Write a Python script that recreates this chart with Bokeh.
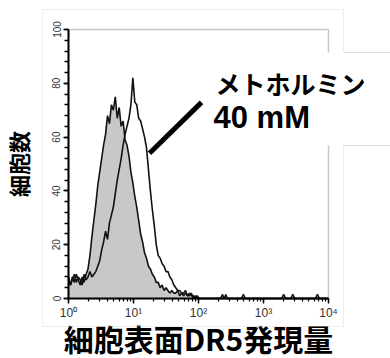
from bokeh.plotting import figure
from bokeh.models import SingleIntervalTicker, LogTicker, BoxAnnotation, Label, Range1d
from bokeh.embed import file_html
from bokeh.resources import INLINE

# log10 of fluorescence intensity (channel positions) and event counts
ctrl_exp = [0.00, 0.03, 0.06, 0.09, 0.12, 0.15, 0.18, 0.21, 0.24, 0.27,
            0.30, 0.33, 0.36, 0.39, 0.42, 0.45, 0.48, 0.51, 0.54, 0.57,
            0.60, 0.63, 0.66, 0.69, 0.72, 0.75, 0.78, 0.81, 0.84, 0.87,
            0.90, 0.93, 0.96, 0.99, 1.02, 1.05, 1.08, 1.11, 1.14, 1.17,
            1.20, 1.23, 1.26, 1.29, 1.32, 1.35, 1.38, 1.41, 1.44, 1.47,
            1.50, 1.53, 1.56, 1.59, 1.62, 1.65, 1.68, 1.71, 1.74, 1.77,
            1.80, 1.83, 1.86, 1.89, 1.92, 1.95, 1.98, 2.01, 4.00]
ctrl_count = [6, 5, 8, 6, 9, 7, 5, 8, 6, 9,
              11, 16, 23, 29, 35, 42, 47, 52, 57, 61,
              68, 65, 72, 70, 75, 67, 71, 64, 66, 59,
              57, 53, 47, 43, 38, 34, 29, 24, 21, 17,
              15, 12, 11, 9, 8, 6, 6, 4, 5, 3,
              4, 3, 2, 3, 2, 2, 3, 1, 2, 1,
              2, 1, 1, 2, 0, 1, 0, 0, 0]

met_exp = [0.00, 0.03, 0.06, 0.09, 0.12, 0.15, 0.18, 0.21, 0.24, 0.27,
           0.30, 0.33, 0.36, 0.39, 0.42, 0.45, 0.48, 0.51, 0.54, 0.57,
           0.60, 0.63, 0.66, 0.69, 0.72, 0.75, 0.78, 0.81, 0.84, 0.87,
           0.90, 0.93, 0.96, 0.99, 1.02, 1.05, 1.08, 1.11, 1.14, 1.17,
           1.20, 1.23, 1.26, 1.29, 1.32, 1.35, 1.38, 1.41, 1.44, 1.47,
           1.50, 1.53, 1.56, 1.59, 1.62, 1.65, 1.68, 1.71, 1.74, 1.77,
           1.80, 1.83, 1.86, 1.89, 1.92, 1.95, 1.98, 2.01,
           2.34, 2.37, 2.395, 2.42, 2.445, 2.66, 2.69, 2.72,
           3.28, 3.31, 3.34, 3.42, 3.45, 3.48, 3.80, 3.83, 3.86, 4.00]
met_count = [8, 5, 7, 9, 6, 8, 7, 5, 9, 7,
             8, 10, 8, 9, 10, 12, 14, 18, 21, 25,
             22, 28, 31, 34, 39, 44, 48, 52, 57, 61,
             64, 67, 72, 82, 73, 72, 67, 66, 63, 60,
             56, 48, 40, 33, 27, 20, 16, 15, 13, 12,
             10, 10, 8, 7, 5, 4, 3, 3, 2, 2,
             3, 1, 2, 1, 1, 0, 1, 0,
             0, 1.5, 0, 1.5, 0, 0, 1.5, 0,
             0, 1.5, 0, 0, 1.5, 0, 0, 1.5, 0, 0]

x_tick_labels = {1: "10⁰", 10: "10¹", 100: "10²", 1000: "10³", 10000: "10⁴"}
x_bounds = (1, 10000)
y_bounds = (0, 100)
pointer_exp = [1.246, 2.046]
pointer_count = [54.0, 72.9]

ctrl_x = [10 ** e for e in ctrl_exp]
met_x = [10 ** e for e in met_exp]
pointer_x = [10 ** e for e in pointer_exp]

# frame spans the whole canvas; axes are pinned with fixed_location
px_per_decade = 65.0
px_per_count = 2.69
left_px, top_px, bottom_px = 68, 29, 298
W, H = 390, 358
x_start = 10 ** (-left_px / px_per_decade)
x_end = 10 ** ((W - left_px) / px_per_decade)
y_start = -(H - bottom_px) / px_per_count
y_end = bottom_px / px_per_count

p = figure(width=W, height=H, x_axis_type="log",
           x_range=Range1d(x_start, x_end), y_range=Range1d(y_start, y_end),
           output_backend="svg", toolbar_location=None,
           min_border_left=0, min_border_right=0,
           min_border_top=0, min_border_bottom=0)
p.background_fill_color = "white"
p.border_fill_color = "white"
p.grid.visible = False
p.outline_line_color = None

# plot box (top / right edges)
p.add_layout(BoxAnnotation(left=x_bounds[0], right=x_bounds[1],
                           bottom=y_bounds[0], top=y_bounds[1],
                           fill_color=None, line_color="#444444",
                           line_width=1.5, level="underlay"))

p.varea(x=ctrl_x, y1=0, y2=ctrl_count, fill_color="#c8c8c8")
p.line(ctrl_x, ctrl_count, line_color="#111111", line_width=1.6)
p.line(met_x, met_count, line_color="#111111", line_width=1.6)
p.line(pointer_x, pointer_count, line_color="black", line_width=5)

# y axis
ya = p.yaxis[0]
ya.fixed_location = x_bounds[0]
ya.bounds = y_bounds
ya.ticker = SingleIntervalTicker(interval=20, num_minor_ticks=5)
ya.major_label_orientation = "vertical"
ya.axis_line_width = 2
ya.axis_line_color = "black"
ya.major_tick_in = 0
ya.major_tick_out = 5
ya.minor_tick_in = 0
ya.minor_tick_out = 4
ya.major_tick_line_width = 1.5
ya.minor_tick_line_width = 1.5
ya.major_label_text_font = "Liberation Sans"
ya.major_label_text_font_size = "10px"
ya.major_label_text_color = "#333333"
ya.major_label_standoff = 3
ya.axis_label = "細胞数"
ya.axis_label_text_font = "Noto Sans CJK JP"
ya.axis_label_text_font_style = "bold"
ya.axis_label_text_font_size = "22px"
ya.axis_label_text_color = "black"
ya.axis_label_standoff = 16

# x axis
xa = p.xaxis[0]
xa.fixed_location = y_bounds[0]
xa.bounds = x_bounds
xa.ticker = LogTicker(num_minor_ticks=10)
xa.major_label_overrides = x_tick_labels
xa.axis_line_width = 2
xa.axis_line_color = "black"
xa.major_tick_in = 0
xa.major_tick_out = 5
xa.minor_tick_in = 0
xa.minor_tick_out = 3
xa.major_tick_line_width = 1.5
xa.minor_tick_line_width = 1.2
xa.major_label_text_font = "Liberation Sans"
xa.major_label_text_font_size = "12px"
xa.major_label_text_color = "#333333"
xa.major_label_standoff = 2
xa.axis_label = "細胞表面DR5発現量"
xa.axis_label_text_font = "Noto Sans CJK JP"
xa.axis_label_text_font_style = "bold"
xa.axis_label_text_font_size = "30px"
xa.axis_label_text_color = "black"
xa.axis_label_standoff = -7

def scr(**kw):
    return dict(left_units="screen", right_units="screen",
                top_units="screen", bottom_units="screen", **kw)

# picture border, label box (screen units, origin bottom-left)
p.add_layout(BoxAnnotation(**scr(left=42, right=343, bottom=32, top=349),
                           fill_color=None, line_color="#c4c4c4", line_width=1))
p.add_layout(BoxAnnotation(**scr(left=205, right=392, bottom=213, top=306),
                           fill_color="white", fill_alpha=1, line_color=None))
p.add_layout(BoxAnnotation(**scr(left=343, right=392, bottom=306, top=306),
                           fill_color=None, line_color="#c4c4c4", line_width=1))
p.add_layout(BoxAnnotation(**scr(left=343, right=392, bottom=213, top=213),
                           fill_color=None, line_color="#c4c4c4", line_width=1))

p.add_layout(Label(x=215, y=294, x_units="screen", y_units="screen",
                   text="メトホルミン", text_font="Noto Sans CJK JP",
                   text_font_style="bold", text_font_size="25px",
                   text_baseline="top", text_color="black"))
p.add_layout(Label(x=213, y=259, x_units="screen", y_units="screen",
                   text="40 mM", text_font="Liberation Sans",
                   text_font_style="bold", text_font_size="31px",
                   text_baseline="top", text_color="black"))

open("out.html", "w").write(file_html(p, INLINE))
